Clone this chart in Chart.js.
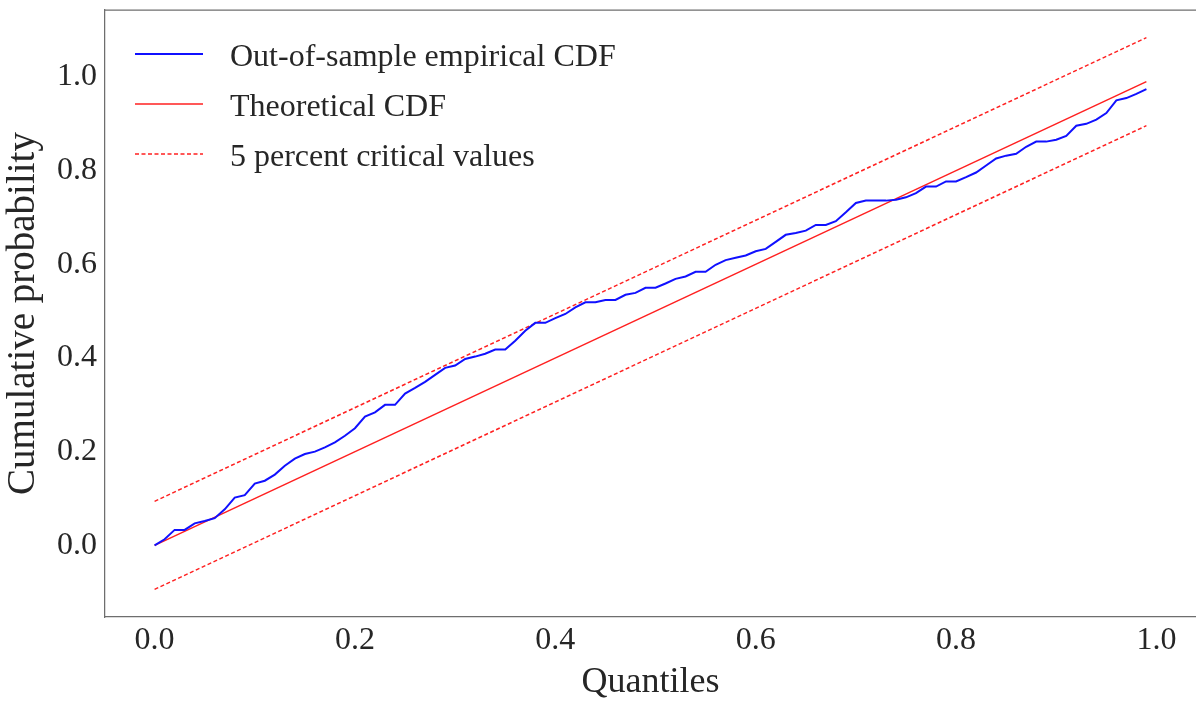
<!DOCTYPE html>
<html>
<head>
<meta charset="utf-8">
<script src="https://cdn.jsdelivr.net/npm/chart.js@4"></script>
<style>
  body { margin: 0; background: #fff; }
  canvas { display: block; }
</style>
</head>
<body>
<canvas id="chartCDF" width="1196" height="704"></canvas>
<script>
// quantile grid of the out-of-sample sample
const quantiles = [
  0.00, 0.01, 0.02, 0.03, 0.04, 0.05, 0.06, 0.07, 0.08, 0.09,
  0.10, 0.11, 0.12, 0.13, 0.14, 0.15, 0.16, 0.17, 0.18, 0.19,
  0.20, 0.21, 0.22, 0.23, 0.24, 0.25, 0.26, 0.27, 0.28, 0.29,
  0.30, 0.31, 0.32, 0.33, 0.34, 0.35, 0.36, 0.37, 0.38, 0.39,
  0.40, 0.41, 0.42, 0.43, 0.44, 0.45, 0.46, 0.47, 0.48, 0.49,
  0.50, 0.51, 0.52, 0.53, 0.54, 0.55, 0.56, 0.57, 0.58, 0.59,
  0.60, 0.61, 0.62, 0.63, 0.64, 0.65, 0.66, 0.67, 0.68, 0.69,
  0.70, 0.71, 0.72, 0.73, 0.74, 0.75, 0.76, 0.77, 0.78, 0.79,
  0.80, 0.81, 0.82, 0.83, 0.84, 0.85, 0.86, 0.87, 0.88, 0.89,
  0.90, 0.91, 0.92, 0.93, 0.94, 0.95, 0.96, 0.97, 0.98, 0.99
]
const empiricalCDF = [
  0.000, 0.013, 0.033, 0.033, 0.047, 0.052, 0.058, 0.077, 0.102, 0.107,
  0.132, 0.138, 0.151, 0.170, 0.185, 0.195, 0.200, 0.209, 0.220, 0.234,
  0.250, 0.275, 0.284, 0.300, 0.300, 0.324, 0.336, 0.349, 0.364, 0.379,
  0.384, 0.398, 0.403, 0.409, 0.418, 0.418, 0.437, 0.458, 0.475, 0.475,
  0.485, 0.494, 0.508, 0.519, 0.519, 0.524, 0.524, 0.535, 0.539, 0.550,
  0.550, 0.559, 0.569, 0.574, 0.584, 0.584, 0.599, 0.609, 0.614, 0.619,
  0.628, 0.633, 0.648, 0.663, 0.667, 0.672, 0.684, 0.684, 0.692, 0.711,
  0.731, 0.736, 0.736, 0.736, 0.738, 0.743, 0.752, 0.766, 0.766, 0.777,
  0.777, 0.786, 0.796, 0.811, 0.826, 0.832, 0.836, 0.851, 0.862, 0.862,
  0.866, 0.874, 0.896, 0.900, 0.909, 0.923, 0.950, 0.955, 0.964, 0.974
]
// straight lines: end points
const lineX = [0.00, 0.99]
const theoreticalCDF = [0.000, 0.990]
const upperCritical = [0.094, 1.084]
const lowerCritical = [-0.094, 0.896]

const xTicks = [0.0, 0.2, 0.4, 0.6, 0.8, 1.0]
const yTicks = [0.0, 0.2, 0.4, 0.6, 0.8, 1.0]
const legendLabels = ['Out-of-sample empirical CDF', 'Theoretical CDF', '5 percent critical values']

function toPoints(xs, ys) {
  const pts = []
  for (var i = 0; i < xs.length; i++) {
    pts.push({x: xs[i], y: ys[i]})
  }
  return pts
}

const FONT = '"Liberation Serif", "Times New Roman", serif'
const TEXT = '#262626'

// top spine and a matplotlib-style legend inside the axes
const framePlugin = {
  id: 'frame',
  afterDraw(chart) {
    const ctx = chart.ctx
    const ca = chart.chartArea
    ctx.save()
    ctx.strokeStyle = '#6e6e6e'
    ctx.lineWidth = 1.25
    ctx.beginPath()
    ctx.moveTo(ca.left, ca.top)
    ctx.lineTo(ca.right, ca.top)
    ctx.stroke()

    const ds = chart.data.datasets
    ctx.font = '32px ' + FONT
    ctx.fillStyle = TEXT
    ctx.textBaseline = 'alphabetic'
    for (var i = 0; i < legendLabels.length; i++) {
      const y = ca.top + 44 + i * 50
      ctx.beginPath()
      ctx.strokeStyle = ds[i].borderColor
      ctx.lineWidth = ds[i].borderWidth
      ctx.setLineDash(ds[i].borderDash || [])
      ctx.moveTo(ca.left + 30, y)
      ctx.lineTo(ca.left + 98, y)
      ctx.stroke()
      ctx.setLineDash([])
      ctx.fillText(legendLabels[i], ca.left + 125, y + 12)
    }
    ctx.restore()
  }
}

new Chart(document.getElementById('chartCDF'), {
  type: 'line',
  data: {
    datasets: [
      {
        label: legendLabels[0],
        data: toPoints(quantiles, empiricalCDF),
        borderColor: '#1010ff',
        borderWidth: 2,
        pointRadius: 0,
        tension: 0
      },
      {
        label: legendLabels[1],
        data: toPoints(lineX, theoreticalCDF),
        borderColor: '#ff2020',
        borderWidth: 1.5,
        pointRadius: 0
      },
      {
        label: legendLabels[2],
        data: toPoints(lineX, upperCritical),
        borderColor: '#ff2020',
        borderWidth: 1.5,
        borderDash: [4, 2.5],
        pointRadius: 0
      },
      {
        label: legendLabels[2] + ' (lower)',
        data: toPoints(lineX, lowerCritical),
        borderColor: '#ff2020',
        borderWidth: 1.5,
        borderDash: [4, 2.5],
        pointRadius: 0
      }
    ]
  },
  options: {
    responsive: false,
    devicePixelRatio: 1,
    animation: false,
    layout: {padding: {top: 10, right: 0, left: 0, bottom: 0}},
    plugins: {
      legend: {display: false},
      tooltip: {enabled: false}
    },
    scales: {
      x: {
        type: 'linear',
        min: -0.0495,
        max: 1.0395,
        afterBuildTicks: (scale) => { scale.ticks = xTicks.map(v => ({value: v})) },
        afterFit: (scale) => {
          scale.height = 87
          scale.paddingLeft = 0
          scale.paddingRight = 0
        },
        grid: {display: false, drawTicks: false},
        border: {display: true, color: '#6e6e6e', width: 1.25},
        ticks: {
          padding: 4,
          maxRotation: 0,
          color: TEXT,
          font: {family: FONT, size: 32},
          callback: (v) => Number(v).toFixed(1)
        },
        title: {
          display: true,
          text: 'Quantiles',
          color: TEXT,
          font: {family: FONT, size: 36},
          padding: {top: 0, bottom: 0}
        }
      },
      y: {
        type: 'linear',
        min: -0.153,
        max: 1.143,
        afterBuildTicks: (scale) => { scale.ticks = yTicks.map(v => ({value: v})) },
        afterFit: (scale) => {
          scale.width = 105
          scale.paddingTop = 0
          scale.paddingBottom = 0
        },
        grid: {display: false, drawTicks: false},
        border: {display: true, color: '#6e6e6e', width: 1.25},
        ticks: {
          padding: 8,
          color: TEXT,
          font: {family: FONT, size: 32},
          callback: (v) => Number(v).toFixed(1)
        },
        title: {
          display: true,
          text: 'Cumulative probability',
          color: TEXT,
          font: {family: FONT, size: 39},
          padding: {top: 0, bottom: 0}
        }
      }
    }
  },
  plugins: [framePlugin]
});
</script>
</body>
</html>
